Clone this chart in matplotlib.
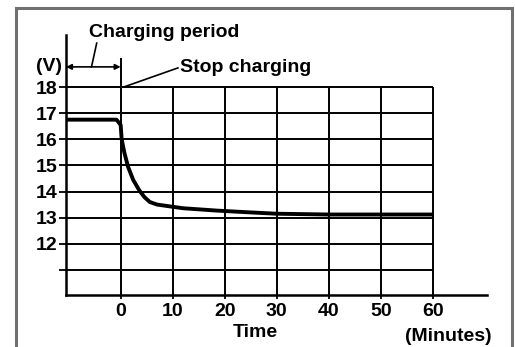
import matplotlib
matplotlib.use("Agg")
import matplotlib.pyplot as plt
from matplotlib.lines import Line2D

# ── data ────────────────────────────────────────────────────────────────────
time_min = [-10.5, -0.8, 0.0, 0.2, 0.7, 1.4, 2.4, 3.6, 4.6, 5.6, 7.0, 8.8,
            12.0, 18.5, 25.0, 30.0, 40.0, 50.0, 60.0]
voltage = [16.75, 16.75, 16.55, 16.0, 15.5, 14.96, 14.45, 14.04, 13.78, 13.6,
           13.5, 13.45, 13.36, 13.27, 13.2, 13.15, 13.12, 13.12, 13.12]

y_grid = [11, 12, 13, 14, 15, 16, 17, 18]
y_labels = ["", "12", "13", "14", "15", "16", "17", "18"]
x_grid = [0, 10, 20, 30, 40, 50, 60]
x_labels = ["0", "10", "20", "30", "40", "50", "60"]

plt.rcParams["font.family"] = ["Liberation Sans", "DejaVu Sans"]
plt.rcParams["font.weight"] = "bold"
FS = 14

W, H = 515, 347
fig = plt.figure(figsize=(W / 100, H / 100), dpi=100)
# axes box in pixel terms: y axis at x=66, x axis at y=295
ax = fig.add_axes([66 / W, (H - 295) / H, (487 - 66) / W, (295 - 35) / H])
ax.set_xlim(-10.5, 70.4)
ax.set_ylim(10.04, 19.99)

# grid drawn by hand so it stops at x=60 / y=18
ax.hlines(y_grid, -10.5, 60, color="black", lw=1.4)
ax.vlines(x_grid[1:], 10.04, 18, color="black", lw=1.4)
ax.vlines(0, 10.04, 19.1, color="black", lw=1.4)

# the voltage curve
ax.plot(time_min, voltage, color="black", lw=2.8, solid_capstyle="butt",
        solid_joinstyle="round")

for s in ["top", "right"]:
    ax.spines[s].set_visible(False)
for s in ["left", "bottom"]:
    ax.spines[s].set_linewidth(1.8)

ax.set_yticks(y_grid)
ax.set_yticklabels(y_labels, fontsize=FS)
ax.set_xticks(x_grid)
ax.set_xticklabels(x_labels, fontsize=FS)
ax.tick_params(axis="y", length=5, width=1.3, pad=1)
ax.tick_params(axis="x", length=3, width=1.3, pad=3)

# ── annotations ─────────────────────────────────────────────────────────────
ax.text(-13.8, 18.77, "(V)", fontsize=FS, ha="center", va="center", clip_on=False)
ax.annotate("", xy=(-10.5, 18.77), xytext=(0, 18.77),
            arrowprops=dict(arrowstyle="<|-|>", color="black", lw=1.2,
                            mutation_scale=8, shrinkA=0, shrinkB=0))
ax.text(-6.0, 20.07, "Charging period", fontsize=FS, ha="left", va="center",
        clip_on=False)
ax.plot([-4.6, -5.6], [19.68, 18.77], color="black", lw=1.2, clip_on=False)

ax.text(11.5, 18.73, "Stop charging", fontsize=FS, ha="left", va="center",
        clip_on=False)
ax.plot([11.0, 0.6], [18.73, 18.0], color="black", lw=1.2, clip_on=False)

ax.text(25.8, 8.59, "Time", fontsize=FS, ha="center", va="center", clip_on=False)
ax.text(62.9, 8.44, "(Minutes)", fontsize=FS, ha="center", va="center",
        clip_on=False)

# outer frame (left, top, right)
fx0, fx1, fy1 = 16 / W, 512 / W, 1 - 8 / H
frame = dict(color="#707070", lw=2.2, transform=fig.transFigure)
fig.add_artist(Line2D([fx0, fx0], [0, fy1], **frame))
fig.add_artist(Line2D([fx0, fx1], [fy1, fy1], **frame))
fig.add_artist(Line2D([fx1, fx1], [fy1, 0], **frame))

fig.savefig("out.png", dpi=100)
